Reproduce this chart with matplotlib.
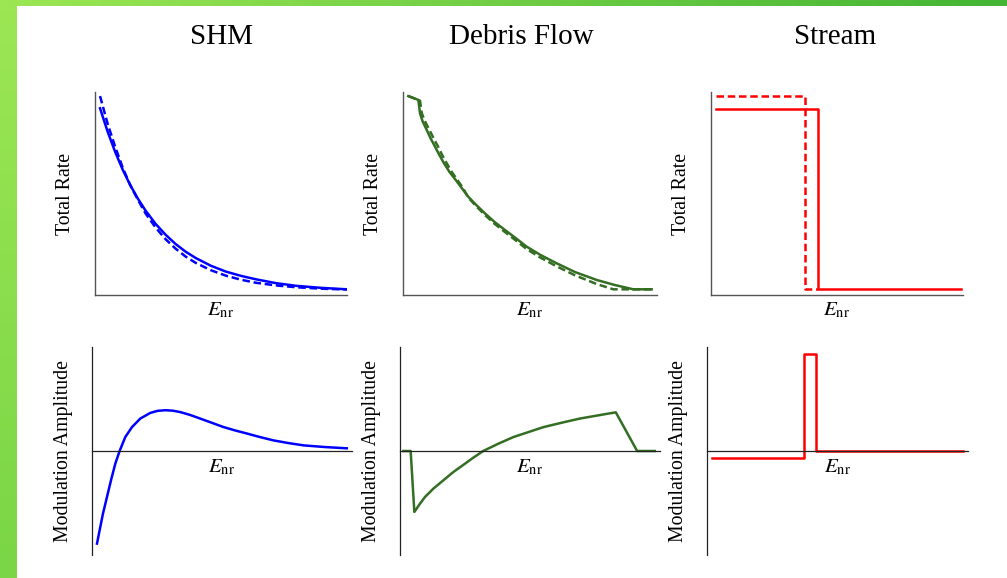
import matplotlib
matplotlib.use("Agg")
import matplotlib.pyplot as plt
import numpy as np

plt.rcParams['font.family'] = ['Liberation Serif', 'DejaVu Serif']
plt.rcParams['mathtext.fontset'] = 'stix'

# --- data (arbitrary units) ---
shm_e = [1, 2.5, 4, 5.5, 7, 8.5, 10, 12, 14, 16, 18, 20, 23, 26, 29, 32, 36, 40, 45, 50]
shm_rate = [9.20, 8.05, 7.05, 6.17, 5.41, 4.75, 4.17, 3.51, 2.97, 2.51, 2.13, 1.82,
            1.44, 1.15, 0.94, 0.77, 0.58, 0.45, 0.35, 0.28]
shm_rate_alt = [9.80, 8.44, 7.30, 6.27, 5.41, 4.70, 4.03, 3.33, 2.75, 2.28, 1.89, 1.58,
                1.22, 0.95, 0.75, 0.60, 0.47, 0.38, 0.31, 0.27]

debris_e = [1.05, 3.02, 3.35, 3.84, 4.67, 5.41, 6.30, 7.15, 8.07, 9.15, 10.37, 11.56,
            12.85, 14.43, 16.14, 18.01, 20.08, 22.15, 24.35, 27.07, 30.26, 33.86,
            38.13, 41.73, 45.33, 48.95]
debris_rate = [9.80, 9.61, 8.95, 8.57, 8.13, 7.73, 7.31, 6.90, 6.49, 6.06, 5.67, 5.27,
               4.84, 4.43, 4.02, 3.60, 3.20, 2.81, 2.38, 1.97, 1.56, 1.13,
               0.74, 0.49, 0.28, 0.28]
debris_e_alt = [1.05, 3.35, 3.70, 4.30, 5.20, 6.00, 6.90, 7.70, 8.60, 9.60, 10.70, 11.80,
                12.85, 14.43, 16.14, 18.01, 20.08, 22.15, 24.35, 27.07, 30.26, 33.86,
                38.13, 41.40, 48.95]
debris_rate_alt = [9.80, 9.57, 8.95, 8.57, 8.13, 7.73, 7.31, 6.90, 6.49, 6.06, 5.67, 5.27,
                   4.80, 4.37, 3.94, 3.51, 3.10, 2.70, 2.26, 1.84, 1.41, 0.97,
                   0.54, 0.28, 0.28]

stream_e = [1.0, 21.2, 21.2, 49.6]
stream_rate = [9.15, 9.15, 0.28, 0.28]
stream_e_alt = [1.0, 18.7, 18.7, 21.2]
stream_rate_alt = [9.80, 9.80, 0.28, 0.28]

shm_mod_e = [0.96, 1.47, 2.11, 2.88, 3.65, 4.48, 5.31, 6.40, 7.69, 9.29, 11.2, 12.6, 14.1,
             15.5, 17.0, 18.9, 20.8, 23.0, 25.3, 27.5, 29.8, 32.3, 34.9, 37.8, 40.7,
             44.8, 49.0]
shm_mod = [-4.45, -3.81, -3.01, -2.21, -1.41, -0.61, 0.0, 0.67, 1.15, 1.56, 1.83, 1.93, 1.96,
           1.94, 1.87, 1.73, 1.56, 1.36, 1.15, 0.99, 0.84, 0.67, 0.51, 0.38, 0.27,
           0.19, 0.13]

debris_mod_e = [0.64, 2.05, 2.76, 3.85, 4.81, 6.41, 8.33, 10.26, 12.5, 14.1, 16.0, 18.9,
                21.8, 24.7, 27.6, 31.1, 34.6, 37.8, 41.5, 45.6, 49.0]
debris_mod = [0.0, 0.0, -2.93, -2.53, -2.21, -1.81, -1.41, -1.01, -0.61, -0.32, 0.0, 0.35,
              0.67, 0.91, 1.15, 1.36, 1.56, 1.70, 1.86, 0.0, 0.0]

stream_mod_e = [0.96, 18.5, 18.5, 20.96, 20.96, 49.0]
stream_mod = [-0.32, -0.32, 4.65, 4.65, 0.0, 0.0]

titles = ['SHM', 'Debris Flow', 'Stream']
colors = ['#0000ff', '#336e22', '#ff0000']

W, H = 1007, 578
fig = plt.figure(figsize=(W / 100, H / 100), dpi=100)

# green frame strips
left = fig.add_axes([0, 0, 17 / W, 1])
left.imshow(np.linspace(0, 1, 50).reshape(-1, 1), aspect='auto',
            cmap=matplotlib.colors.LinearSegmentedColormap.from_list('l', ['#9ce654', '#7ad646']))
left.axis('off')
top = fig.add_axes([0, 1 - 6 / H, 1, 6 / H])
top.imshow(np.linspace(0, 1, 100).reshape(1, -1), aspect='auto',
           cmap=matplotlib.colors.LinearSegmentedColormap.from_list('t', ['#9ce654', '#44b535']))
top.axis('off')


def box(x0, y0, x1, y1):
    return [x0 / W, 1 - y1 / H, (x1 - x0) / W, (y1 - y0) / H]


top_boxes = [box(95, 92, 347, 295), box(403, 92, 657, 295), box(711, 92, 963, 295)]
bot_boxes = [box(92, 347, 352, 555), box(400, 347, 660, 555), box(707, 347, 968, 555)]
title_x = [222, 521, 835]

top_data = [(shm_e, shm_rate, shm_e, shm_rate_alt),
            (debris_e, debris_rate, debris_e_alt, debris_rate_alt),
            (stream_e, stream_rate, stream_e_alt, stream_rate_alt)]
bot_data = [(shm_mod_e, shm_mod), (debris_mod_e, debris_mod), (stream_mod_e, stream_mod)]

elabel = r'$E_{\mathrm{nr}}$'

for i in range(3):
    c = colors[i]
    ax = fig.add_axes(top_boxes[i])
    xs, ys, xd, yd = top_data[i]
    ax.plot(xs, ys, color=c, lw=1.8)
    ax.plot(xd, yd, color=c, lw=1.8, ls=(0, (3, 1.5)))
    ax.set_xlim(0, 50)
    ax.set_ylim(0, 10)
    ax.set_xticks([])
    ax.set_yticks([])
    for s in ['top', 'right']:
        ax.spines[s].set_visible(False)
    for s in ['left', 'bottom']:
        ax.spines[s].set_color('#555555')
        ax.spines[s].set_linewidth(1.0)
    ax.set_ylabel('Total Rate', fontsize=14.3)
    ax.yaxis.set_label_coords(-0.08, 0.5)
    ax.set_xlabel(elabel, fontsize=15, labelpad=4)
    fig.text(title_x[i] / W, 1 - 37 / H, titles[i], fontsize=21, ha='center', va='center')

    bx = fig.add_axes(bot_boxes[i])
    xe, ym = bot_data[i]
    bx.plot(xe, ym, color=c, lw=1.8)
    bx.set_xlim(0, 50)
    bx.set_ylim(-5, 5)
    bx.set_xticks([])
    bx.set_yticks([])
    for s in ['top', 'right']:
        bx.spines[s].set_visible(False)
    bx.spines['bottom'].set_position(('data', 0))
    bx.spines['bottom'].set_color('#222222')
    bx.spines['bottom'].set_linewidth(0.9)
    bx.spines['left'].set_color('#222222')
    bx.spines['left'].set_linewidth(0.9)
    bx.set_ylabel('Modulation Amplitude', fontsize=14.3)
    bx.yaxis.set_label_coords(-0.073, 0.5)
    bx.annotate(elabel, xy=(0.5, 0), xycoords=('axes fraction', 'data'),
                xytext=(0, -12), textcoords='offset points',
                ha='center', va='center', fontsize=15)

fig.savefig('out.png', dpi=100)
